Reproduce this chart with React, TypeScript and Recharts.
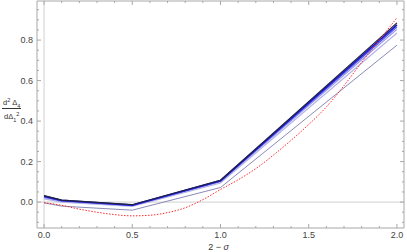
import { LineChart, Line, XAxis, YAxis, ReferenceLine } from "recharts";

// sigma samples for the blue family
const sigmaPts = [0, 0.1, 0.5, 1, 2];
const blackVals = [0.032, 0.01, -0.013, 0.108, 0.885];
const darkBlueVals = [0.03, 0.008, -0.015, 0.106, 0.875];
const midBlueVals = [0.026, 0.006, -0.016, 0.103, 0.865];
const lightBlueVals = [0.022, 0.004, -0.018, 0.1, 0.853];
const paleBlueVals = [0.016, 0.0, -0.021, 0.094, 0.835];
const grayBlueVals = [-0.004, -0.02, -0.04, 0.072, 0.775];

// red dotted curve, finer sampling
const redSigma = [0, 0.1, 0.2, 0.3, 0.4, 0.5, 0.6, 0.7, 0.8, 0.9, 1.0, 1.1, 1.2, 1.3, 1.4, 1.5, 1.6, 1.7, 1.8, 1.9, 2.0];
const redVals = [-0.003, -0.016, -0.035, -0.05, -0.062, -0.068, -0.065, -0.052, -0.028, 0.012, 0.062, 0.11, 0.165, 0.232, 0.305, 0.383, 0.47, 0.575, 0.69, 0.8, 0.91];

const xMajorTicks = [0, 0.5, 1, 1.5, 2];
const xMinorTicks = [0.1, 0.2, 0.3, 0.4, 0.6, 0.7, 0.8, 0.9, 1.1, 1.2, 1.3, 1.4, 1.6, 1.7, 1.8, 1.9];
const yMajorTicks = [0, 0.2, 0.4, 0.6, 0.8];
const yMinorTicks = [-0.1, -0.05, 0.05, 0.1, 0.15, 0.25, 0.3, 0.35, 0.45, 0.5, 0.55, 0.65, 0.7, 0.75, 0.85, 0.9, 0.95];

const toRows = (xs: number[], ys: number[]) => xs.map((x, i) => ({ x, y: ys[i] }));

const series = [
  { name: "grayBlue", vals: grayBlueVals, color: "#8a8ab8", width: 1 },
  { name: "paleBlue", vals: paleBlueVals, color: "#b4b4e6", width: 1.2 },
  { name: "lightBlue", vals: lightBlueVals, color: "#9494f0", width: 1.2 },
  { name: "midBlue", vals: midBlueVals, color: "#5a5ae8", width: 1.3 },
  { name: "darkBlue", vals: darkBlueVals, color: "#1a1ad0", width: 1.8 },
  { name: "black", vals: blackVals, color: "#22223a", width: 1.2 },
];

const frame = "#a8a8a8";
const labelColor = "#444";
const font = "'Liberation Sans', Arial, sans-serif";

const isMajor = (v: number, majors: number[]) => majors.some((m) => Math.abs(m - v) < 1e-6);

const BottomTick = ({ x, y, payload }: any) => {
  const major = isMajor(payload.value, xMajorTicks);
  return (
    <g>
      <line x1={x} y1={y} x2={x} y2={y - (major ? 4 : 2)} stroke={frame} />
      {major && (
        <text x={x} y={y + 10} textAnchor="middle" fontSize={9} fill={labelColor} fontFamily={font}>
          {payload.value.toFixed(1)}
        </text>
      )}
    </g>
  );
};

const TopTick = ({ x, y, payload }: any) => {
  const major = isMajor(payload.value, xMajorTicks);
  return <line x1={x} y1={y} x2={x} y2={y + (major ? 4 : 2)} stroke={frame} />;
};

const LeftTick = ({ x, y, payload }: any) => {
  const major = isMajor(payload.value, yMajorTicks);
  return (
    <g>
      <line x1={x} y1={y} x2={x + (major ? 4 : 2)} y2={y} stroke={frame} />
      {major && (
        <text x={x - 4} y={y + 3} textAnchor="end" fontSize={9} fill={labelColor} fontFamily={font}>
          {payload.value.toFixed(1)}
        </text>
      )}
    </g>
  );
};

const RightTick = ({ x, y, payload }: any) => {
  const major = isMajor(payload.value, yMajorTicks);
  return <line x1={x} y1={y} x2={x - (major ? 4 : 2)} y2={y} stroke={frame} />;
};

export default function App() {
  const xTicks = [...xMajorTicks, ...xMinorTicks].sort((a, b) => a - b);
  const yTicks = [...yMajorTicks, ...yMinorTicks].sort((a, b) => a - b);
  const xDomain = [-0.04, 2.04];
  const yDomain = [-0.128, 0.993];

  return (
    <div style={{ position: "relative", width: 407, height: 252, fontFamily: font }}>
      <style>{"body{margin:0}"}</style>
      <LineChart width={407} height={252} margin={{ top: 0, right: 0, bottom: 0, left: 0 }}>
        <XAxis
          xAxisId="bottom"
          dataKey="x"
          type="number"
          domain={xDomain}
          ticks={xTicks}
          interval={0}
          height={24}
          tickSize={0}
          tickMargin={0}
          stroke={frame}
          tick={<BottomTick />}
          allowDataOverflow
        />
        <XAxis
          xAxisId="top"
          orientation="top"
          dataKey="x"
          type="number"
          domain={xDomain}
          ticks={xTicks}
          interval={0}
          height={1}
          tickSize={0}
          tickMargin={0}
          stroke={frame}
          tick={<TopTick />}
          allowDataOverflow
        />
        <YAxis
          yAxisId="left"
          type="number"
          domain={yDomain}
          ticks={yTicks}
          interval={0}
          width={37}
          tickSize={0}
          tickMargin={0}
          stroke={frame}
          tick={<LeftTick />}
          allowDataOverflow
        />
        <YAxis
          yAxisId="right"
          orientation="right"
          type="number"
          domain={yDomain}
          ticks={yTicks}
          interval={0}
          width={3}
          tickSize={0}
          tickMargin={0}
          stroke={frame}
          tick={<RightTick />}
          allowDataOverflow
        />
        <ReferenceLine xAxisId="bottom" yAxisId="left" x={0} stroke="#d0d0d0" />
        <ReferenceLine xAxisId="bottom" yAxisId="left" y={0} stroke="#d0d0d0" />
        {series.map((s) => (
          <Line
            key={s.name}
            xAxisId="bottom"
            yAxisId="left"
            data={toRows(sigmaPts, s.vals)}
            dataKey="y"
            type="linear"
            stroke={s.color}
            strokeWidth={s.width}
            dot={false}
            isAnimationActive={false}
          />
        ))}
        <Line
          xAxisId="bottom"
          yAxisId="left"
          data={toRows(redSigma, redVals)}
          dataKey="y"
          type="monotone"
          stroke="#ff2a2a"
          strokeWidth={1}
          strokeDasharray="1.5 1.5"
          dot={false}
          isAnimationActive={false}
        />
      </LineChart>
      {/* y-axis label: d²Δ₄ / dΔ₁² */}
      <div
        style={{
          position: "absolute",
          left: 2,
          top: 99,
          fontSize: 7.5,
          color: "#333",
          textAlign: "center",
          lineHeight: "8px",
        }}
      >
        <div style={{ borderBottom: "1px solid #333", padding: "0 1px 1px" }}>
          d<sup style={{ fontSize: 5.5, lineHeight: 0 }}>2</sup> Δ
          <sub style={{ fontSize: 5.5, lineHeight: 0 }}>4</sub>
        </div>
        <div style={{ paddingTop: 4 }}>
          dΔ<sub style={{ fontSize: 5.5, lineHeight: 0 }}>1</sub>
          <sup style={{ fontSize: 5.5, lineHeight: 0 }}>2</sup>
        </div>
      </div>
      <div
        style={{
          position: "absolute",
          left: 0,
          width: 407,
          top: 242,
          textAlign: "center",
          paddingLeft: 30,
          boxSizing: "border-box",
          fontSize: 9,
          color: "#333",
        }}
      >
        2 − <i>σ</i>
      </div>
    </div>
  );
}
